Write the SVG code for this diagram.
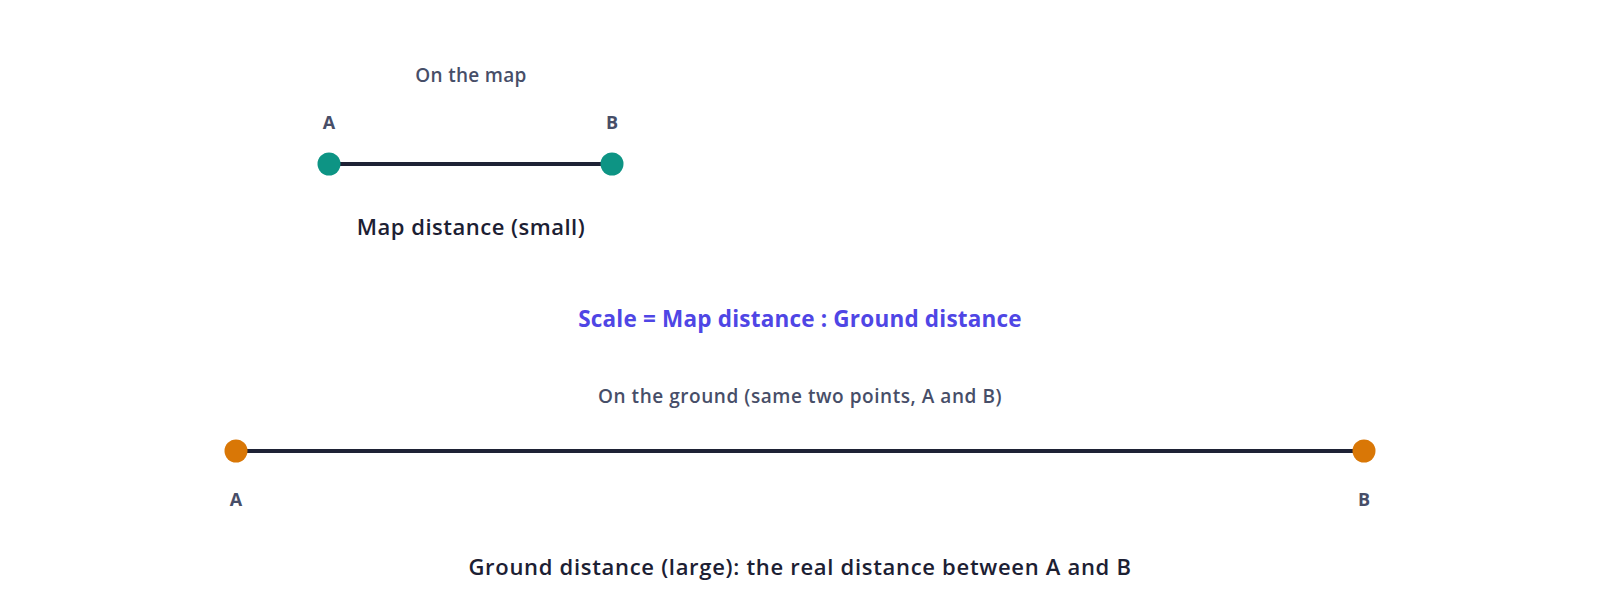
<svg xmlns="http://www.w3.org/2000/svg" width="1600" height="611" viewBox="0 0 1600 611">
<style>
text{font-family:"Open Sans","Noto Sans","Liberation Sans",sans-serif;font-weight:600;text-anchor:middle}
.lbl{font-size:19px;fill:#474e68;letter-spacing:0.3px}
.wide{letter-spacing:0.55px}
.pt{font-size:18px;fill:#474e68;font-weight:700}
.big{font-size:22px;fill:#1c2033;letter-spacing:0.5px}
.bigw{letter-spacing:0.7px}
.eq{font-size:22.5px;fill:#4f46e5;font-weight:700;letter-spacing:0.2px}
.seg{stroke:#1e2235;stroke-width:4}
.teal{fill:#0d9484}
.orange{fill:#d97706}
</style>
<rect width="1600" height="611" fill="#ffffff"/>
<g id="connectors">
<line class="seg" x1="329" y1="164" x2="612" y2="164"/>
<line class="seg" x1="236" y1="451" x2="1364" y2="451"/>
</g>
<g id="map-title"><text class="lbl" x="471" y="82">On the map</text></g>
<g id="map-A"><circle class="teal" cx="329" cy="164" r="11.5"/><text class="pt" x="329" y="129">A</text></g>
<g id="map-B"><circle class="teal" cx="612" cy="164" r="11.5"/><text class="pt" x="612" y="129">B</text></g>
<g id="map-caption"><text class="big" x="471" y="235">Map distance (small)</text></g>
<g id="formula"><text class="eq" x="800" y="327">Scale = Map distance : Ground distance</text></g>
<g id="ground-title"><text class="lbl wide" x="800" y="403">On the ground (same two points, A and B)</text></g>
<g id="ground-A"><circle class="orange" cx="236" cy="451" r="11.5"/><text class="pt" x="236" y="506">A</text></g>
<g id="ground-B"><circle class="orange" cx="1364" cy="451" r="11.5"/><text class="pt" x="1364" y="506">B</text></g>
<g id="ground-caption"><text class="big bigw" x="800" y="575">Ground distance (large): the real distance between A and B</text></g>
</svg>
